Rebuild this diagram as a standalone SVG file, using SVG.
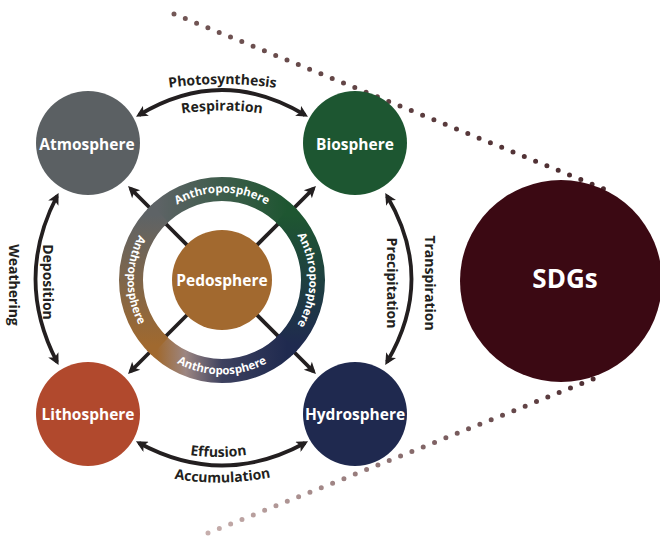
<svg xmlns="http://www.w3.org/2000/svg" width="660" height="539" viewBox="0 0 660 539">
<style>
.node text{font-family:"Open Sans","Liberation Sans",sans-serif;font-weight:700;fill:#fff;text-anchor:middle}
.lbl{font-family:"Open Sans","Liberation Sans",sans-serif;font-weight:700;font-size:14px;fill:#231f20;text-anchor:middle}
.ring{font-family:"Open Sans","Liberation Sans",sans-serif;font-weight:700;font-size:11.5px;fill:#fff;text-anchor:middle}
.arr{fill:none;stroke:#231f20;stroke-width:3.8}
.dots{fill:none;stroke-width:5;stroke-linecap:round;stroke-dasharray:0 12.2}
</style>
<defs>
<marker id="ah" viewBox="0 0 10 10" refX="7" refY="5" markerWidth="13" markerHeight="11.5" markerUnits="userSpaceOnUse" orient="auto-start-reverse">
<path d="M0,0 L10,5 L0,10 L2.5,5 z" fill="#231f20"/>
</marker>
<linearGradient id="gTop" gradientUnits="userSpaceOnUse" x1="157" y1="0" x2="287" y2="0"><stop offset="0" stop-color="#5e6366"/><stop offset="1" stop-color="#1e5631"/></linearGradient>
<linearGradient id="gRight" gradientUnits="userSpaceOnUse" x1="0" y1="215" x2="0" y2="345"><stop offset="0" stop-color="#1e5631"/><stop offset="1" stop-color="#1f2a4f"/></linearGradient>
<linearGradient id="gBot" gradientUnits="userSpaceOnUse" x1="157" y1="0" x2="287" y2="0"><stop offset="0" stop-color="#a0692f"/><stop offset="0.22" stop-color="#9c8682"/><stop offset="0.5" stop-color="#3d415f"/><stop offset="1" stop-color="#1f2a4f"/></linearGradient>
<linearGradient id="gLeft" gradientUnits="userSpaceOnUse" x1="0" y1="345" x2="0" y2="215"><stop offset="0" stop-color="#a0692f"/><stop offset="1" stop-color="#5e6366"/></linearGradient>
<linearGradient id="gDotTop" gradientUnits="userSpaceOnUse" x1="174" y1="14" x2="604" y2="189"><stop offset="0" stop-color="#735756"/><stop offset="1" stop-color="#4a2a2e"/></linearGradient>
<linearGradient id="gDotBot" gradientUnits="userSpaceOnUse" x1="208" y1="533" x2="603" y2="375"><stop offset="0" stop-color="#c6aeac"/><stop offset="1" stop-color="#4a2a2e"/></linearGradient>
<path id="pPhoto" d="M150,91 Q222,77 295,91"/>
<path id="pResp" d="M168,116 Q222,105 276,116"/>
<path id="pEff" d="M175,452 Q218,462 262,452"/>
<path id="pAcc" d="M160,476 Q222,490 285,474"/>
<path id="rTop" d="M134.5,280 A87.5,87.5 0 0 1 309.5,280"/>
<path id="rRight" d="M222,192.5 A87.5,87.5 0 0 1 222,367.5"/>
<path id="rBot" d="M127.5,280 A94.5,94.5 0 0 0 316.5,280"/>
<path id="rLeft" d="M222,185.5 A94.5,94.5 0 0 0 222,374.5"/>
</defs>
<rect width="660" height="539" fill="#fff"/>

<g id="connectors">
<path class="dots" stroke="url(#gDotTop)" d="M174,14 L604,189"/>
<path class="dots" stroke="url(#gDotBot)" d="M208,533 L603,375"/>
<path class="arr" marker-end="url(#ah)" d="M222,280 L130.5,188.5"/>
<path class="arr" marker-end="url(#ah)" d="M222,280 L313.5,188.5"/>
<path class="arr" marker-end="url(#ah)" d="M222,280 L130.5,371.5"/>
<path class="arr" marker-end="url(#ah)" d="M222,280 L313.5,371.5"/>
</g>

<g id="anthroposphere">
<path d="M155.44,217.94 A91,91 0 0 1 288.56,217.94" fill="none" stroke="url(#gTop)" stroke-width="24"/>
<path d="M284.06,213.44 A91,91 0 0 1 284.06,346.56" fill="none" stroke="url(#gRight)" stroke-width="24"/>
<path d="M288.56,342.06 A91,91 0 0 1 155.44,342.06" fill="none" stroke="url(#gBot)" stroke-width="24"/>
<path d="M159.94,346.56 A91,91 0 0 1 159.94,213.44" fill="none" stroke="url(#gLeft)" stroke-width="24"/>
<text class="ring"><textPath href="#rTop" startOffset="50%">Anthroposphere</textPath></text>
<text class="ring"><textPath href="#rRight" startOffset="50%">Anthroposphere</textPath></text>
<text class="ring"><textPath href="#rBot" startOffset="50%">Anthroposphere</textPath></text>
<text class="ring"><textPath href="#rLeft" startOffset="50%">Anthroposphere</textPath></text>
</g>

<g id="pedosphere" class="node">
<circle cx="222" cy="280" r="50" fill="#a2692f"/>
<text x="222" y="285.5" font-size="15.5">Pedosphere</text>
</g>
<g id="atmosphere" class="node">
<circle cx="88" cy="143" r="52" fill="#5b6063"/>
<text x="87" y="149.5" font-size="15.5">Atmosphere</text>
</g>
<g id="biosphere" class="node">
<circle cx="355" cy="143" r="52" fill="#1d5631"/>
<text x="355" y="149.5" font-size="15.5">Biosphere</text>
</g>
<g id="lithosphere" class="node">
<circle cx="88" cy="414" r="52" fill="#b1492d"/>
<text x="88" y="420" font-size="15.5">Lithosphere</text>
</g>
<g id="hydrosphere" class="node">
<circle cx="355" cy="414" r="52" fill="#1f294f"/>
<text x="355" y="420" font-size="15.5">Hydrosphere</text>
</g>
<g id="sdgs" class="node">
<circle cx="561" cy="281" r="101" fill="#3b0913"/>
<text x="565" y="288" font-size="26">SDGs</text>
</g>

<g id="cycle-arrows">
<path class="arr" marker-start="url(#ah)" marker-end="url(#ah)" d="M139,115 Q222,65 305,115"/>
<path class="arr" marker-start="url(#ah)" marker-end="url(#ah)" d="M139,443 Q222,488 305,443"/>
<path class="arr" marker-start="url(#ah)" marker-end="url(#ah)" d="M57,196 Q14,279 57,362"/>
<path class="arr" marker-start="url(#ah)" marker-end="url(#ah)" d="M387,196 Q436,279 387,362"/>
</g>

<g id="labels">
<text class="lbl"><textPath href="#pPhoto" startOffset="50%">Photosynthesis</textPath></text>
<text class="lbl"><textPath href="#pResp" startOffset="50%">Respiration</textPath></text>
<text class="lbl"><textPath href="#pEff" startOffset="50%">Effusion</textPath></text>
<text class="lbl"><textPath href="#pAcc" startOffset="50%">Accumulation</textPath></text>
<text class="lbl" transform="translate(43,282) rotate(90)">Deposition</text>
<text class="lbl" transform="translate(8.5,285) rotate(90)">Weathering</text>
<text class="lbl" transform="translate(386.5,283) rotate(90)">Precipitation</text>
<text class="lbl" transform="translate(424.5,283) rotate(90)">Transpiration</text>
</g>
</svg>
